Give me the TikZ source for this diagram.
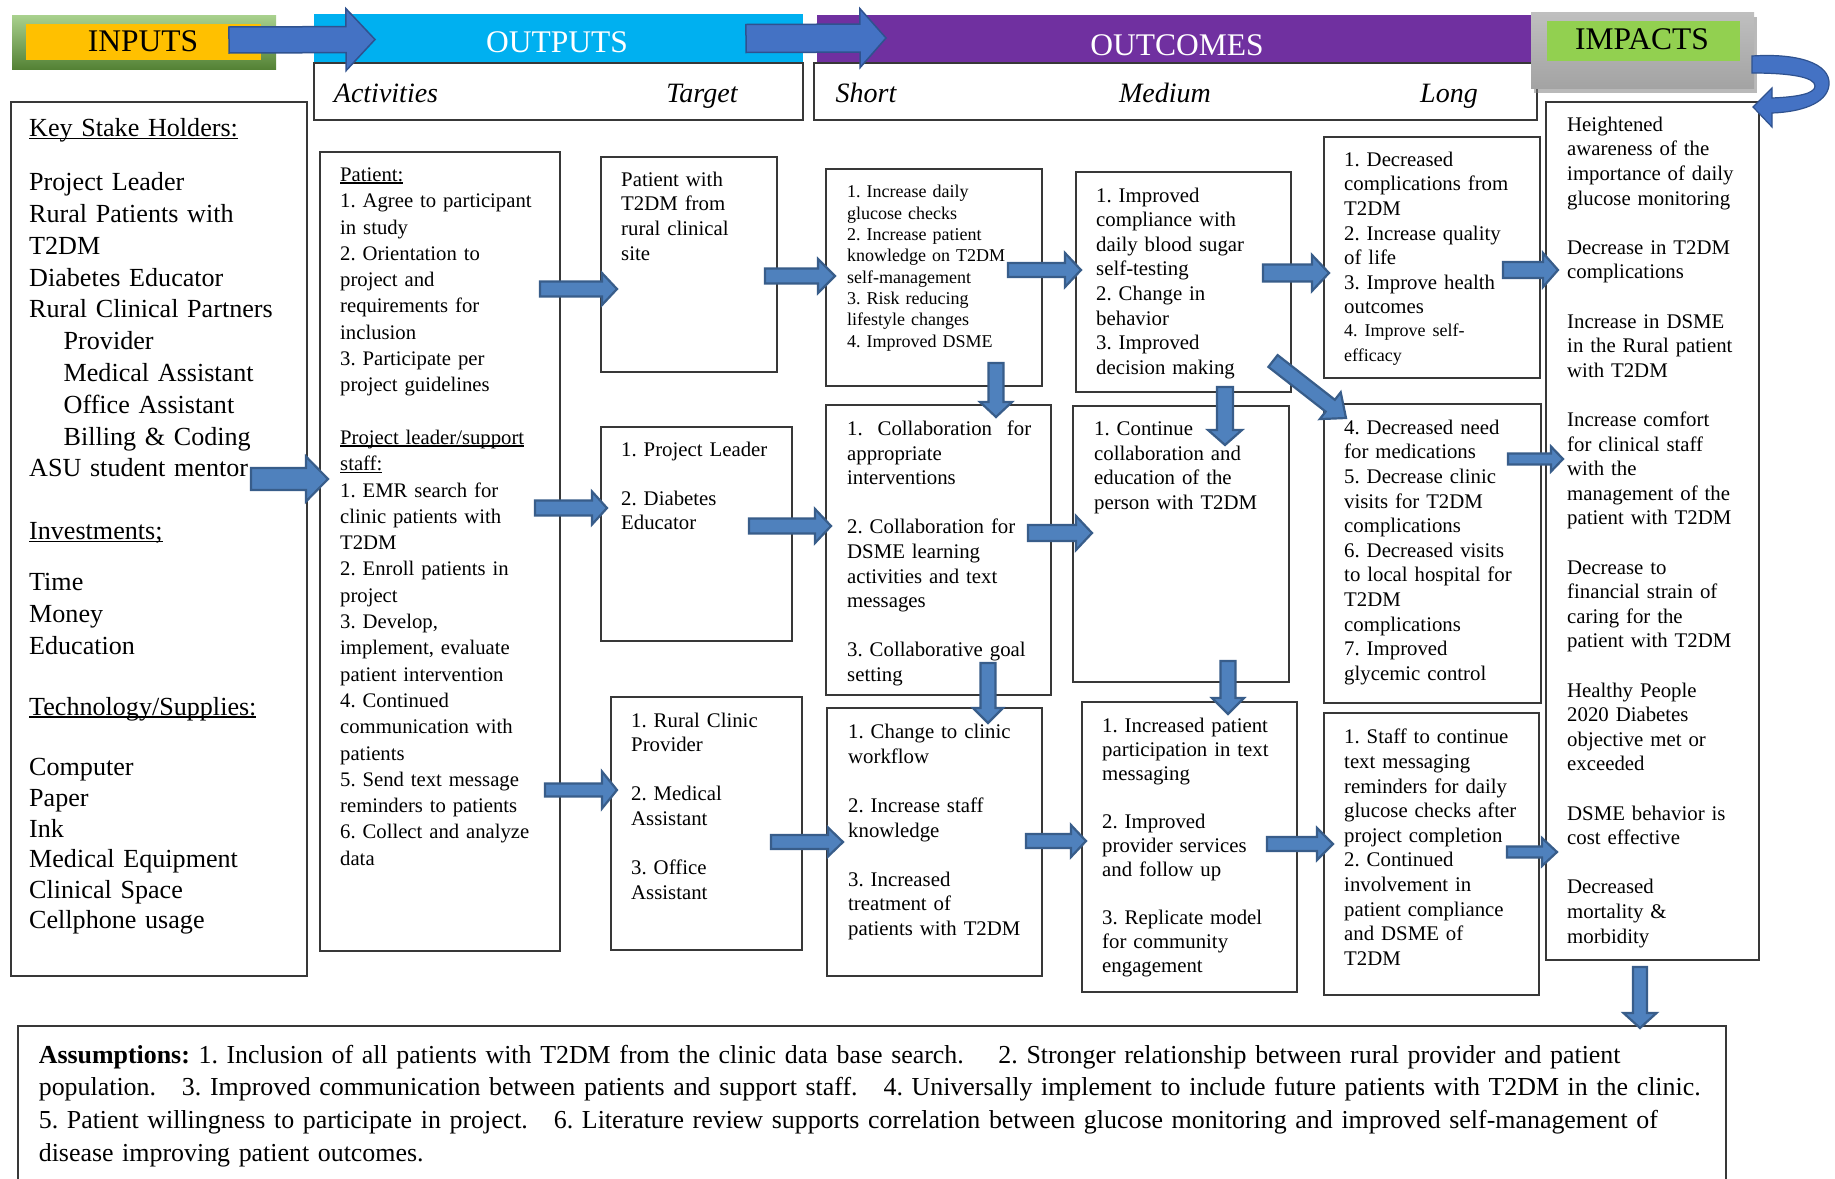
\documentclass[tikz,border=0pt]{standalone}
\usepackage{fontspec}
\setmainfont{Liberation Serif}
\usepackage{xcolor}
\usepackage{tikz}
\usetikzlibrary{calc,shadows}
\definecolor{clrInTop}{RGB}{169,209,142}
\definecolor{clrInBot}{RGB}{84,130,53}
\definecolor{clrYel}{RGB}{255,192,0}
\definecolor{clrCyan}{RGB}{0,176,240}
\definecolor{clrPurp}{RGB}{112,48,160}
\definecolor{clrLime}{RGB}{146,208,80}
\definecolor{clrHArr}{RGB}{68,114,196}
\definecolor{clrHArrLn}{RGB}{47,82,143}
\definecolor{clrBlk}{RGB}{79,129,189}
\definecolor{clrBlkLn}{RGB}{56,93,138}
\frenchspacing
\newcommand{\undl}[1]{\setbox0=\hbox{#1}\leavevmode\rlap{\rule[-0.11em]{\wd0}{0.065em}}\box0}
\tikzset{
  hdrbar/.style={rectangle,anchor=north west,inner sep=0pt,outer sep=0pt},
  hdrtxt/.style={anchor=base,inner sep=0pt,font=\fontsize{31.5pt}{36pt}\selectfont},
  subtxt/.style={anchor=base,inner sep=0pt,font=\fontsize{28pt}{32pt}\selectfont\itshape},
  boxed/.style={rectangle,draw=black!78,line width=1.6pt,fill=white,
    anchor=north west,inner sep=0pt,outer sep=0pt},
  boxtxt/.style={anchor=north west,inner sep=0pt,align=left,text width=200pt,
    font=\fontsize{20.8pt}{24.6pt}\selectfont},
  bigtxt/.style={boxtxt,text width=270pt,font=\fontsize{26.1pt}{31.8pt}\selectfont},
  acttxt/.style={boxtxt,text width=215pt,font=\fontsize{20.7pt}{26.3pt}\selectfont},
  smalltxt/.style={boxtxt,font=\fontsize{18pt}{21.3pt}\selectfont},
  notetxt/.style={boxtxt,text width=1700pt,font=\fontsize{25.9pt}{32.8pt}\selectfont},
  bodyhalf/.store in=\blkbw,
  headhalf/.store in=\blkhw,
  headlen/.store in=\blkhl,
  bodyhalf=7.5pt,headhalf=16pt,headlen=15pt,
  blk/.style={draw=clrBlkLn,fill=clrBlk,line width=2.2pt,line join=miter,
    to path={
      ($(\tikztostart)!\blkbw!90:(\tikztotarget)$)
      -- ($(\tikztotarget)!\blkhl!(\tikztostart)!\blkbw!-90:(\tikztostart)$)
      -- ($(\tikztotarget)!\blkhl!(\tikztostart)!\blkhw!-90:(\tikztostart)$)
      -- (\tikztotarget)
      -- ($(\tikztotarget)!\blkhl!(\tikztostart)!\blkhw!90:(\tikztostart)$)
      -- ($(\tikztotarget)!\blkhl!(\tikztostart)!\blkbw!90:(\tikztostart)$)
      -- ($(\tikztostart)!\blkbw!-90:(\tikztotarget)$)
      -- cycle}},
  hblk/.style={blk,draw=clrHArrLn,fill=clrHArr,line width=1.5pt},
  curvarrow/.style={draw=clrHArrLn,fill=clrHArr,line width=1.2pt}
}

\begin{document}
\begin{tikzpicture}[x=1pt,y=1pt]
  \path[use as bounding box,fill=white] (0,0) rectangle (1835,-1178);

  % header row
  \node[hdrbar,minimum width=264pt,minimum height=54pt,
        top color=clrInTop,bottom color=clrInBot] (ingreen) at (12,-15) {};
  \node[hdrbar,fill=clrYel,minimum width=235pt,minimum height=36pt] (inyel) at (26,-24) {};
  \node[hdrtxt] (inputs) at (143,-51) {INPUTS};

  \node[hdrbar,fill=clrCyan,minimum width=489pt,minimum height=49pt] (outbar) at (314,-14) {};
  \node[hdrtxt,text=white] (outputs) at (557,-52) {OUTPUTS};
  \node[boxed,minimum width=489pt,minimum height=57pt] (outsub) at (314,-63) {};
  \node[subtxt] (activities) at (386,-102) {Activities};
  \node[subtxt] (target) at (702,-102) {Target};

  \node[hdrbar,fill=clrPurp,minimum width=715pt,minimum height=48pt] (ocbar) at (817,-15) {};
  \node[hdrtxt,text=white] (outcomes) at (1177,-55) {OUTCOMES};
  \node[boxed,minimum width=723pt,minimum height=57pt] (ocsub) at (814,-63) {};
  \node[subtxt] (short) at (866,-102) {Short};
  \node[subtxt] (medium) at (1165,-102) {Medium};
  \node[subtxt] (long) at (1449,-102) {Long};

  \node[hdrbar,minimum width=223pt,minimum height=76pt,
        top color=gray!50,bottom color=gray!72,
        drop shadow={shadow xshift=3pt,shadow yshift=-5pt,fill=black!50,opacity=.55}]
    (impbar) at (1531,-12) {};
  \node[hdrbar,fill=clrLime,minimum width=193pt,minimum height=40pt] (implime) at (1547,-21) {};
  \node[hdrtxt] (impacts) at (1642,-49.5) {IMPACTS};

  \draw[hblk,bodyhalf=13pt,headhalf=31pt,headlen=29pt]
    ([xshift=-47pt,yshift=2pt]ingreen.east) to ([xshift=61pt,yshift=-1pt]outbar.west);
  \draw[hblk,bodyhalf=14pt,headhalf=29.5pt,headlen=26pt]
    ([xshift=-57pt]outbar.east) to ([xshift=69pt,yshift=1pt]ocbar.west);

  % inputs
  \node[boxed,minimum width=296pt,minimum height=874pt] (inbox) at (11,-102) {};
  \node[bigtxt] (intxt) at ([shift={(18,-16.3)}]inbox.north west)
    {\undl{Key Stake Holders:}\\[22.3pt]
     Project Leader\\
     Rural Patients with\\
     T2DM\\
     Diabetes Educator\\
     Rural Clinical Partners\\
     \hspace*{34.5pt}Provider\\
     \hspace*{34.5pt}Medical Assistant\\
     \hspace*{34.5pt}Office Assistant\\
     \hspace*{34.5pt}Billing \& Coding\\
     ASU student mentor\\[30.7pt]
     \undl{Investments;}\\[19.7pt]
     Time\\
     Money\\
     Education\\[28.7pt]
     \undl{Technology/Supplies:}\\[29pt]
     Computer\\[-1.2pt]
     Paper\\[-1.2pt]
     Ink\\[-1.2pt]
     Medical Equipment\\[-1.2pt]
     Clinical Space\\[-1.2pt]
     Cellphone usage};

  % outputs
  \node[boxed,minimum width=240pt,minimum height=799pt] (actbox) at (320,-152) {};
  \node[acttxt] (acttext) at ([shift={(20,-15.5)}]actbox.north west)
    {\undl{Patient:}\\
     1. Agree to participant\\
     in study\\
     2. Orientation to\\
     project and\\
     requirements for\\
     inclusion\\
     3. Participate per\\
     project guidelines\\[26.3pt]
     \undl{Project leader/support}\\
     \undl{staff:}\\
     1. EMR search for\\
     clinic patients with\\
     T2DM\\
     2. Enroll patients in\\
     project\\
     3. Develop,\\
     implement, evaluate\\
     patient intervention\\
     4. Continued\\
     communication with\\
     patients\\
     5. Send text message\\
     reminders to patients\\
     6. Collect and analyze\\
     data};

  \node[boxed,minimum width=176pt,minimum height=215pt] (tgtA) at (601,-157) {};
  \node[boxtxt] (tgtAtxt) at ([shift={(20,-14.7)}]tgtA.north west)
    {Patient with\\ T2DM from\\ rural clinical\\ site};

  \node[boxed,minimum width=191pt,minimum height=214pt] (tgtB) at (601,-427) {};
  \node[boxtxt] (tgtBtxt) at ([shift={(20,-14.4)}]tgtB.north west)
    {1. Project Leader\\[24.6pt] 2. Diabetes\\ Educator};

  \node[boxed,minimum width=191pt,minimum height=253pt] (tgtC) at (611,-697) {};
  \node[boxtxt] (tgtCtxt) at ([shift={(20,-15.4)}]tgtC.north west)
    {1. Rural Clinic\\ Provider\\[24.6pt] 2. Medical\\ Assistant\\[24.6pt] 3. Office\\ Assistant};

  % outcomes, short
  \node[boxed,minimum width=216pt,minimum height=217pt] (shortA) at (826,-169) {};
  \node[smalltxt] (shortAtxt) at ([shift={(21,-16.3)}]shortA.north west)
    {1. Increase daily\\ glucose checks\\ 2. Increase patient\\ knowledge on T2DM\\
     self-management\\ 3. Risk reducing\\ lifestyle changes\\ 4. Improved DSME};

  \node[boxed,minimum width=225pt,minimum height=290pt] (shortB) at (826,-405) {};
  \node[boxtxt] (shortBtxt) at ([shift={(21,-15.7)}]shortB.north west)
    {\hbox to 184pt{1.\hfill Collaboration\hfill for}\\ appropriate\\ interventions\\[24.6pt]
     2. Collaboration for\\ DSME learning\\ activities and text\\ messages\\[24.6pt]
     3. Collaborative goal\\ setting};

  \node[boxed,minimum width=215pt,minimum height=268pt] (shortC) at (827,-708) {};
  \node[boxtxt] (shortCtxt) at ([shift={(21,-16.1)}]shortC.north west)
    {1. Change to clinic\\ workflow\\[24.6pt] 2. Increase staff\\ knowledge\\[24.6pt]
     3. Increased\\ treatment of\\ patients with T2DM};

  % outcomes, medium
  \node[boxed,minimum width=215pt,minimum height=220pt] (medA) at (1076,-172) {};
  \node[boxtxt] (medAtxt) at ([shift={(20,-15.4)}]medA.north west)
    {1. Improved\\ compliance with\\ daily blood sugar\\ self-testing\\
     2. Change in\\ behavior\\ 3. Improved\\ decision making};

  \node[boxed,minimum width=216pt,minimum height=276pt] (medB) at (1073,-406) {};
  \node[boxtxt] (medBtxt) at ([shift={(21,-15.7)}]medB.north west)
    {1. Continue\\ collaboration and\\ education of the\\ person with T2DM};

  \node[boxed,minimum width=215pt,minimum height=290pt] (medC) at (1082,-702) {};
  \node[boxtxt,font=\fontsize{20.8pt}{24pt}\selectfont] (medCtxt)
    at ([shift={(20,-15.4)}]medC.north west)
    {1. Increased patient\\ participation in text\\ messaging\\[24pt]
     2. Improved\\ provider services\\ and follow up\\[24pt]
     3. Replicate model\\ for community\\ engagement};

  % outcomes, long
  \node[boxed,minimum width=216pt,minimum height=241pt] (longA) at (1324,-137) {};
  \node[boxtxt] (longAtxt) at ([shift={(20,-14.7)}]longA.north west)
    {1. Decreased\\ complications from\\ T2DM\\ 2. Increase quality\\ of life\\
     3. Improve health\\ outcomes\\[2pt]
     \fontsize{18pt}{21pt}\selectfont 4. Improve self-\\ efficacy};

  \node[boxed,minimum width=217pt,minimum height=299pt] (longB) at (1324,-404) {};
  \node[boxtxt] (longBtxt) at ([shift={(20,-15.7)}]longB.north west)
    {4. Decreased need\\ for medications\\ 5. Decrease clinic\\ visits for T2DM\\
     complications\\ 6. Decreased visits\\ to local hospital for\\ T2DM\\
     complications\\ 7. Improved\\ glycemic control};

  \node[boxed,minimum width=215pt,minimum height=282pt] (longC) at (1324,-713) {};
  \node[boxtxt] (longCtxt) at ([shift={(20,-16.1)}]longC.north west)
    {1. Staff to continue\\ text messaging\\ reminders for daily\\ glucose checks after\\
     project completion\\ 2. Continued\\ involvement in\\ patient compliance\\
     and DSME of\\ T2DM};

  % impacts
  \node[boxed,minimum width=213pt,minimum height=858pt] (impbox) at (1546,-102) {};
  \node[boxtxt] (imptxt) at ([shift={(21,-14.7)}]impbox.north west)
    {Heightened\\ awareness of the\\ importance of daily\\ glucose monitoring\\[24.6pt]
     Decrease in T2DM\\ complications\\[24.6pt]
     Increase in DSME\\ in the Rural patient\\ with T2DM\\[24.6pt]
     Increase comfort\\ for clinical staff\\ with the\\ management of the\\ patient with T2DM\\[24.6pt]
     Decrease to\\ financial strain of\\ caring for the\\ patient with T2DM\\[24.6pt]
     Healthy People\\ 2020 Diabetes\\ objective met or\\ exceeded\\[24.6pt]
     DSME behavior is\\ cost effective\\[24.6pt]
     Decreased\\ mortality \&\\ morbidity};

  \filldraw[curvarrow]
    ([xshift=-2pt,yshift=-6pt]impbar.east)
    .. controls (1797,-53) and (1831,-63) .. (1829,-85)
    .. controls (1827,-104) and (1800,-112) .. (1772,-113)
    -- (1772,-127)
    -- ([xshift=-6pt,yshift=-5pt]impbox.north east)
    -- (1772,-88) -- (1772,-98)
    .. controls (1796,-97) and (1815,-94) .. (1815,-86)
    .. controls (1815,-77) and (1790,-73) .. (1752,-73)
    -- cycle;

  % assumptions
  \node[boxed,minimum width=1708pt,minimum height=210pt] (assume) at (18,-1026) {};
  \node[notetxt] (assumetxt) at ([shift={(20.6,-18.7)}]assume.north west)
    {\textbf{Assumptions:} 1. Inclusion of all patients with T2DM from the clinic data base search.\quad{} 2. Stronger relationship between rural provider and patient\\
     population.\quad 3. Improved communication between patients and support staff.\quad 4. Universally implement to include future patients with T2DM in the clinic.\\
     5. Patient willingness to participate in project.\quad 6. Literature review supports correlation between glucose monitoring and improved self-management of\\
     disease improving patient outcomes.};

  % block arrows
  \draw[blk,bodyhalf=11pt,headhalf=22.5pt,headlen=22pt]
    ([xshift=-56pt,yshift=-377pt]inbox.north east) to ([xshift=8pt,yshift=-327pt]actbox.north west);
  \draw[blk] ([xshift=-20pt,yshift=-137pt]actbox.north east) to ([xshift=16pt,yshift=-132pt]tgtA.north west);
  \draw[blk,headhalf=16.5pt] ([xshift=-25pt,yshift=-356pt]actbox.north east) to ([xshift=6pt,yshift=-81pt]tgtB.north west);
  \draw[blk,bodyhalf=6.5pt,headhalf=18.5pt] ([xshift=-15pt,yshift=-638pt]actbox.north east) to ([xshift=6pt,yshift=-93pt]tgtC.north west);

  \draw[blk,headhalf=17pt,headlen=17pt] ([xshift=-12pt,yshift=-119pt]tgtA.north east) to ([xshift=9pt,yshift=-107pt]shortA.north west);
  \draw[blk,headhalf=17pt,headlen=16pt] ([xshift=-43pt,yshift=-99pt]tgtB.north east) to ([xshift=5pt,yshift=-121pt]shortB.north west);
  \draw[blk,bodyhalf=7pt,headhalf=14.5pt] ([xshift=-31pt,yshift=-145pt]tgtC.north east) to ([xshift=16pt,yshift=-134pt]shortC.north west);

  \draw[blk,bodyhalf=7pt,headhalf=17pt,headlen=16pt] ([xshift=-34pt,yshift=-101pt]shortA.north east) to ([xshift=5pt,yshift=-98pt]medA.north west);
  \draw[blk,bodyhalf=8pt,headhalf=17pt,headlen=16pt] ([xshift=-23pt,yshift=-128pt]shortB.north east) to ([xshift=19pt,yshift=-127pt]medB.north west);
  \draw[blk,bodyhalf=7pt] ([xshift=-16pt,yshift=-133pt]shortC.north east) to ([xshift=4pt,yshift=-139pt]medC.north west);
  \draw[blk] ([xshift=170pt,yshift=23pt]shortA.south west) to ([xshift=170pt,yshift=-12pt]shortB.north west);
  \draw[blk,headhalf=15pt] ([xshift=162pt,yshift=32pt]shortB.south west) to ([xshift=161pt,yshift=-15pt]shortC.north west);

  \draw[blk,bodyhalf=8.5pt,headhalf=18pt,headlen=17pt] ([xshift=-28pt,yshift=-101pt]medA.north east) to ([xshift=5pt,yshift=-136pt]longA.north west);
  \draw[blk,bodyhalf=7pt,headlen=16pt] ([xshift=-30pt,yshift=-142pt]medC.north east) to ([xshift=9pt,yshift=-131pt]longC.north west);
  \draw[blk,bodyhalf=8pt,headhalf=17pt] ([xshift=149pt,yshift=5pt]medA.south west) to ([xshift=152pt,yshift=-39pt]medB.north west);
  \draw[blk,headlen=16pt] ([xshift=155pt,yshift=21pt]medB.south west) to ([xshift=146pt,yshift=-12pt]medC.north west);
  \draw[blk,headhalf=17pt,headlen=20pt] ([xshift=-18pt,yshift=31pt]medA.south east) to ([xshift=22pt,yshift=-14pt]longB.north west);

  \draw[blk,bodyhalf=8pt,headhalf=17pt] ([xshift=-37pt,yshift=-133pt]longA.north east) to ([xshift=12pt,yshift=-168pt]impbox.north west);
  \draw[blk,bodyhalf=5.5pt,headhalf=12.5pt,headlen=12pt] ([xshift=-33pt,yshift=-55pt]longB.north east) to ([xshift=17pt,yshift=-357pt]impbox.north west);
  \draw[blk,bodyhalf=5.5pt,headhalf=14pt] ([xshift=-32pt,yshift=-139pt]longC.north east) to ([xshift=11pt,yshift=-750pt]impbox.north west);
  \draw[blk,bodyhalf=7pt,headhalf=16.5pt] ([xshift=94pt,yshift=-7pt]impbox.south west) to ([xshift=1622pt,yshift=-2pt]assume.north west);
\end{tikzpicture}
\end{document}
